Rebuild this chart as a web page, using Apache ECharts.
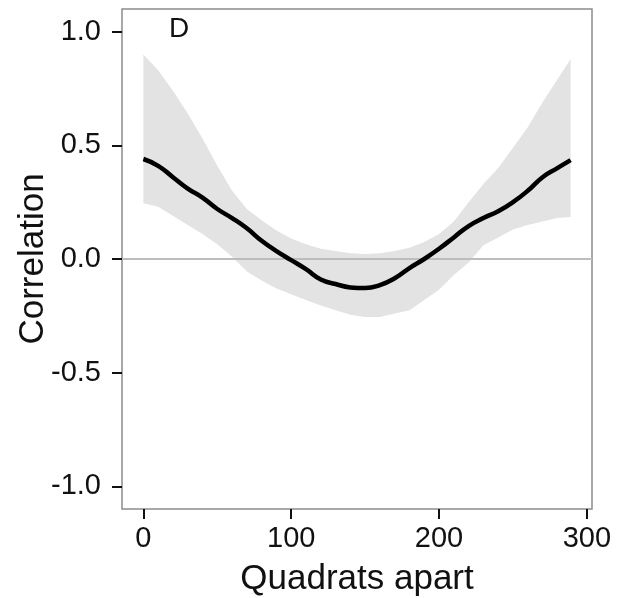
<!DOCTYPE html>
<html><head><meta charset="utf-8">
<script src="https://cdn.jsdelivr.net/npm/echarts@6/dist/echarts.min.js"></script>
<style>html,body{margin:0;padding:0;background:#fff}#c{width:633px;height:598px}</style>
</head><body><div id="c"></div>
<script>
const xValues     = [0, 10, 20, 30, 40, 50, 60, 70, 80, 90, 100, 110, 120, 130, 140, 150, 160, 170, 180, 190, 200, 210, 220, 230, 240, 250, 260, 270, 280, 289];
const meanValues  = [0.44, 0.41, 0.36, 0.31, 0.27, 0.22, 0.18, 0.135, 0.08, 0.035, -0.005, -0.045, -0.09, -0.11, -0.125, -0.128, -0.115, -0.085, -0.04, 0.0, 0.045, 0.095, 0.145, 0.18, 0.21, 0.25, 0.30, 0.36, 0.40, 0.435];
const upperValues = [0.90, 0.83, 0.74, 0.64, 0.53, 0.41, 0.30, 0.22, 0.17, 0.125, 0.09, 0.065, 0.045, 0.035, 0.025, 0.022, 0.025, 0.035, 0.05, 0.075, 0.11, 0.165, 0.25, 0.33, 0.40, 0.49, 0.58, 0.69, 0.79, 0.88];
const lowerValues = [0.245, 0.23, 0.19, 0.15, 0.11, 0.065, 0.01, -0.055, -0.095, -0.13, -0.155, -0.18, -0.205, -0.225, -0.245, -0.255, -0.255, -0.24, -0.225, -0.18, -0.135, -0.07, -0.015, 0.06, 0.095, 0.13, 0.15, 0.165, 0.18, 0.185];
const xTicks = [0, 100, 200, 300];
const yTicks = [-1, -0.5, 0, 0.5, 1];
const panelLabel = 'D';
const xTitle = 'Quadrats apart';
const yTitle = 'Correlation';

const X_MIN = -14.45, X_MAX = 303.45, Y_MIN = -1.1, Y_MAX = 1.1;
const FONT = 'Liberation Sans, Arial, sans-serif';

const chart = echarts.init(document.getElementById('c'), null, {renderer: 'canvas'});
const bandData = xValues.map((x, i) => [x, lowerValues[i], upperValues[i]]);
const meanData = xValues.map((x, i) => [x, meanValues[i]]);

const option = {
  animation: false,
  grid: {left: 122, right: 41, top: 9, bottom: 89, containLabel: false, outerBoundsMode: 'none',
         show: true, borderColor: '#8c8c8c', borderWidth: 1.5, backgroundColor: 'transparent'},
  title: {text: panelLabel, left: 169, top: 15, padding: 0, textStyle: {fontSize: 28, fontWeight: 'normal', color: '#111', fontFamily: FONT}},
  xAxis: {
    type: 'value', min: X_MIN, max: X_MAX,
    axisLine: {show: false, onZero: false},
    axisTick: {show: true, length: 10, inside: false, customValues: xTicks, lineStyle: {color: '#111', width: 2}},
    axisLabel: {customValues: xTicks, fontSize: 29, color: '#111', margin: 15, fontFamily: FONT},
    splitLine: {show: false},
    name: xTitle, nameLocation: 'middle', nameGap: 53, nameMoveOverlap: false,
    nameTextStyle: {fontSize: 35, color: '#111', fontFamily: FONT}
  },
  yAxis: {
    type: 'value', min: Y_MIN, max: Y_MAX,
    axisLine: {show: false, onZero: false},
    axisTick: {show: true, length: 10, inside: false, customValues: yTicks, lineStyle: {color: '#111', width: 2}},
    axisLabel: {customValues: yTicks, fontSize: 29, color: '#111', margin: 21, fontFamily: FONT, formatter: v => Number(v).toFixed(1)},
    splitLine: {show: false},
    name: yTitle, nameLocation: 'middle', nameGap: 71, nameMoveOverlap: false,
    nameTextStyle: {fontSize: 35, color: '#111', fontFamily: FONT}
  },
  series: [
    {
      type: 'custom', clip: true, silent: true,
      data: bandData,
      encode: {x: 0, y: [1, 2]},
      renderItem: function (params, api) {
        if (params.dataIndex !== 0) return null;
        const up = bandData.map(d => api.coord([d[0], d[2]]));
        const lo = bandData.slice().reverse().map(d => api.coord([d[0], d[1]]));
        return {type: 'polygon', shape: {points: up.concat(lo)}, style: {fill: '#e3e3e3', stroke: null}};
      }
    },
    {
      type: 'line', silent: true, showSymbol: false,
      data: [[X_MIN, 0], [X_MAX, 0]],
      lineStyle: {color: '#bdbdbd', width: 2}
    },
    {
      type: 'line', silent: true, showSymbol: false, smooth: true,
      data: meanData,
      lineStyle: {color: '#000', width: 4.5}
    }
  ]
};
chart.setOption(option);
</script></body></html>
